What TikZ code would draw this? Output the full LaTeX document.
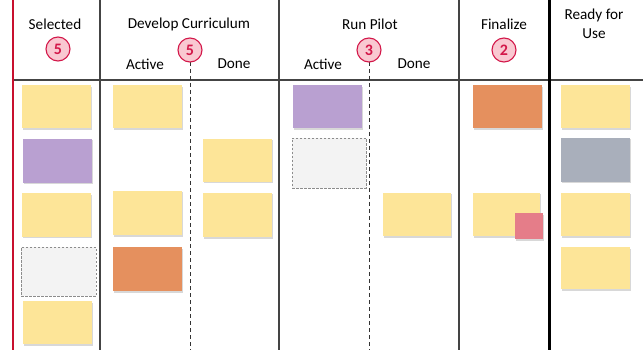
\documentclass[tikz,border=0pt]{standalone}
\usepackage{fontspec}
\setmainfont{Carlito}
\usetikzlibrary{shadows}
\definecolor{stYellow}{HTML}{FDE598}
\definecolor{stPurple}{HTML}{B9A0D1}
\definecolor{stOrange}{HTML}{E5905E}
\definecolor{stGray}{HTML}{A9AFBB}
\definecolor{stPink}{HTML}{E57D89}
\definecolor{stBlank}{HTML}{F3F3F3}
\definecolor{badgeFill}{HTML}{F9C8D1}
\definecolor{badgeRed}{HTML}{D3184A}
\definecolor{lineGray}{HTML}{444444}
\definecolor{redLine}{HTML}{C8102E}
\begin{document}
\begin{tikzpicture}[x=1pt,y=-1pt,
  txt/.style={font=\fontsize{15.2}{18.5}\selectfont, text=black, inner sep=0pt, align=center},
  badge/.style={circle, draw=badgeRed, line width=1.1pt, fill=badgeFill, minimum size=24pt, inner sep=0pt,
    font=\fontsize{16}{16}\selectfont\bfseries, text=badgeRed},
  sticky/.style={inner sep=0pt, minimum width=69pt, minimum height=43pt,
    drop shadow={shadow xshift=1pt, shadow yshift=-1.5pt, opacity=0.25, fill=black!60}},
  blank/.style={inner sep=0pt, fill=stBlank, draw=black!45, dashed, dash pattern=on 2.5pt off 1.5pt, line width=0.8pt},
  colline/.style={draw=lineGray, line width=1.3pt},
  sepline/.style={draw=black!80, line width=1pt, dash pattern=on 4pt off 3pt}
]
\path[fill=white, use as bounding box] (0,0) rectangle (643,350);

% frame lines
\coordinate (redT) at (12.5,0); \coordinate (redB) at (12.5,350);
\coordinate (hL) at (12.5,80); \coordinate (hR) at (643,80);
\coordinate (v1T) at (100,0); \coordinate (v1B) at (100,350);
\coordinate (v2T) at (279,0); \coordinate (v2B) at (279,350);
\coordinate (v3T) at (459,0); \coordinate (v3B) at (459,350);
\coordinate (v4T) at (549,0); \coordinate (v4B) at (549,350);
\draw[colline] (hL) -- (hR);
\draw[colline] (v1T) -- (v1B);
\draw[colline] (v2T) -- (v2B);
\draw[colline] (v3T) -- (v3B);
\draw[black, line width=3pt] (v4T) -- (v4B);
\draw[redLine, line width=2pt] (redT) -- (redB);

% headers
\node[txt] (hSel) at (55,24) {Selected};
\node[txt] (hDev) at (189,24) {Develop Curriculum};
\node[txt] (hRun) at (370,24) {Run Pilot};
\node[txt] (hFin) at (504,24) {Finalize};
\node[txt] (hRdy) at (594,24) {Ready for\\Use};
\node[txt] (aDev) at (145,64) {Active};
\node[txt] (dDev) at (234,64) {Done};
\node[txt] (aRun) at (323,64) {Active};
\node[txt] (dRun) at (414,64) {Done};

% badges and dashed separators
\coordinate (sepDevB) at (190,350);
\coordinate (sepRunB) at (369,350);
\draw[sepline] (190,62) -- (sepDevB);
\draw[sepline] (369,62) -- (sepRunB);
\node[badge] (bSel) at (58,49) {5};
\node[badge] (bDev) at (190,50) {5};
\node[badge] (bRun) at (369,50) {3};
\node[badge] (bFin) at (504,50) {2};

% Selected column
\node[sticky, fill=stYellow] (s1) at (56.5,107) {};
\node[sticky, fill=stPurple, minimum height=44pt] (s2) at (57,161) {};
\node[sticky, fill=stYellow] (s3) at (56.5,215) {};
\node[blank, minimum width=75pt, minimum height=49pt] (s4) at (58.5,271.5) {};
\node[sticky, fill=stYellow] (s5) at (57.5,322.5) {};

% Develop Curriculum
\node[sticky, fill=stYellow] (d1) at (147.5,107) {};
\node[sticky, fill=stYellow, minimum height=44pt] (d2) at (147.5,213) {};
\node[sticky, fill=stOrange, minimum height=44pt] (d3) at (147.5,269) {};
\node[sticky, fill=stYellow] (d4) at (237.5,160.5) {};
\node[sticky, fill=stYellow, minimum height=44pt] (d5) at (237.5,215) {};

% Run Pilot
\node[sticky, fill=stPurple] (p1) at (327.5,107) {};
\node[blank, minimum width=74pt, minimum height=50pt] (p2) at (329,163) {};
\node[sticky, fill=stYellow, minimum width=68pt] (p3) at (417,214.5) {};

% Finalize
\node[sticky, fill=stOrange] (f1) at (507.5,107) {};
\node[sticky, fill=stYellow, minimum width=67pt] (f2) at (506.5,214.5) {};
\node[sticky, fill=stPink, minimum width=28pt, minimum height=26pt] (f3) at (529,226) {};

% Ready for Use
\node[sticky, fill=stYellow] (r1) at (595.5,107) {};
\node[sticky, fill=stGray, minimum height=44pt] (r2) at (595.5,160) {};
\node[sticky, fill=stYellow] (r3) at (595.5,214.5) {};
\node[sticky, fill=stYellow, minimum height=42pt] (r4) at (595.5,268) {};
\end{tikzpicture}
\end{document}
